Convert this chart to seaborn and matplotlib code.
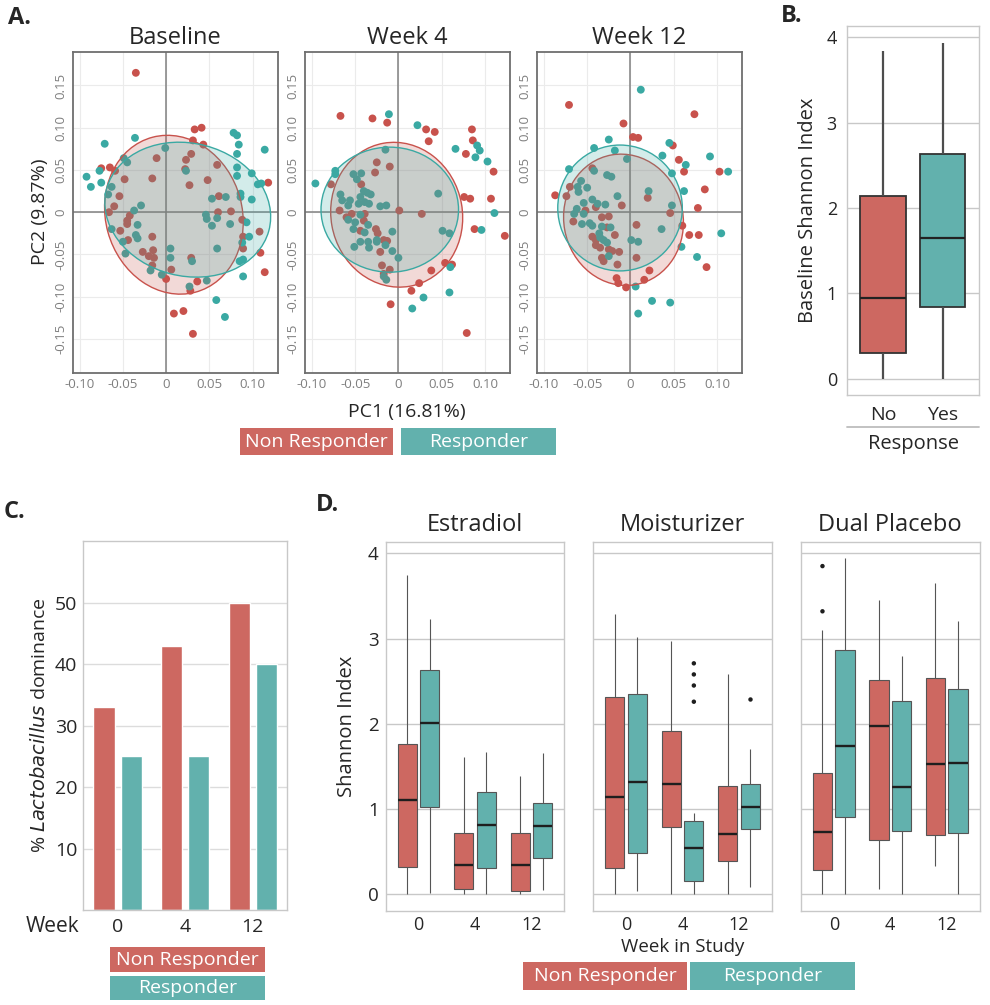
import numpy as np
import pandas as pd
import seaborn as sns
import matplotlib.pyplot as plt
from matplotlib.patches import Ellipse, Rectangle
from matplotlib.lines import Line2D
from matplotlib.colors import to_rgba

sns.set_theme(style="white")
plt.rcParams['font.family'] = ['Open Sans', 'DejaVu Sans']

groups = ["Non Responder", "Responder"]
weeks = ["0", "4", "12"]
pca_titles = ["Baseline", "Week 4", "Week 12"]

# PCA scores (PC1, PC2)
baseline_nr = [(-0.035, 0.165), (0.033, 0.098), (0.041, 0.100), (0.031, 0.085), (0.043, 0.080),
               (-0.011, 0.064), (0.029, 0.069), (0.023, 0.062), (0.022, 0.051), (0.059, 0.056),
               (-0.075, 0.052), (-0.065, 0.053), (-0.059, 0.049), (-0.048, 0.039), (-0.016, 0.040),
               (0.027, 0.032), (0.048, 0.038), (0.118, 0.035), (-0.054, 0.019), (-0.060, 0.007),
               (-0.066, 0.000), (0.061, 0.019), (-0.042, -0.004), (-0.045, -0.010), (-0.045, -0.014),
               (0.060, 0.000), (0.075, 0.001), (0.088, -0.009), (-0.053, -0.022), (-0.016, -0.029),
               (0.089, -0.029), (0.108, -0.023), (-0.044, -0.033), (-0.027, -0.047), (-0.015, -0.045),
               (-0.020, -0.052), (-0.014, -0.054), (-0.016, -0.063), (0.029, -0.054), (0.006, -0.068),
               (0.089, -0.043), (0.109, -0.048), (0.114, -0.071), (0.000, -0.079), (0.036, -0.082),
               (0.028, -0.093), (0.009, -0.120), (0.020, -0.117), (0.031, -0.144)]
baseline_r = [(-0.036, 0.088), (-0.071, 0.081), (-0.001, 0.076), (0.078, 0.094), (0.082, 0.091),
              (0.084, 0.080), (0.082, 0.069), (0.114, 0.074), (-0.049, 0.064), (-0.045, 0.059),
              (-0.077, 0.049), (-0.092, 0.042), (-0.087, 0.030), (-0.075, 0.035), (-0.063, 0.030),
              (0.082, 0.053), (0.082, 0.043), (0.099, 0.046), (0.106, 0.033), (0.110, 0.034),
              (0.023, 0.049), (-0.067, 0.021), (-0.029, 0.008), (-0.037, 0.002), (0.053, 0.016),
              (0.069, 0.018), (0.086, 0.022), (0.086, 0.018), (0.099, 0.015), (0.046, -0.003),
              (0.047, -0.008), (0.059, -0.007), (0.053, -0.016), (0.074, -0.014), (0.093, -0.012),
              (-0.063, -0.020), (-0.033, -0.015), (-0.035, -0.027), (-0.033, -0.031), (-0.050, -0.035),
              (-0.047, -0.049), (0.096, -0.029), (0.088, -0.036), (0.059, -0.043), (0.005, -0.043),
              (0.005, -0.054), (0.030, -0.058), (0.089, -0.056), (0.085, -0.058), (-0.018, -0.069),
              (-0.005, -0.074), (0.089, -0.076), (0.047, -0.081), (0.027, -0.088), (0.058, -0.104),
              (0.068, -0.124)]
week4_nr = [(-0.067, 0.114), (-0.030, 0.111), (-0.013, 0.106), (0.032, 0.098), (0.042, 0.095),
            (0.035, 0.084), (0.085, 0.098), (0.086, 0.085), (0.078, 0.069), (0.110, 0.048),
            (-0.025, 0.059), (-0.010, 0.054), (-0.027, 0.047), (-0.078, 0.033), (-0.043, 0.033),
            (0.076, 0.018), (0.083, 0.016), (0.107, 0.016), (-0.068, 0.002), (0.001, 0.002),
            (0.027, -0.002), (-0.060, -0.006), (-0.054, -0.002), (-0.039, -0.002), (-0.040, -0.010),
            (-0.044, -0.022), (-0.026, -0.020), (-0.024, -0.025), (-0.017, -0.033), (-0.013, -0.034),
            (-0.021, -0.047), (0.088, -0.020), (0.123, -0.028), (-0.019, -0.063), (-0.010, -0.068),
            (-0.017, -0.073), (0.038, -0.069), (0.054, -0.060), (0.062, -0.062), (0.024, -0.084),
            (0.015, -0.093), (-0.009, -0.109), (0.079, -0.143)]
week4_r = [(-0.011, 0.116), (0.022, 0.103), (0.066, 0.075), (0.091, 0.079), (0.094, 0.073),
           (0.089, 0.065), (0.103, 0.060), (-0.015, 0.074), (-0.073, 0.049), (-0.073, 0.045),
           (-0.096, 0.034), (-0.052, 0.045), (-0.043, 0.046), (-0.048, 0.039), (-0.067, 0.021),
           (-0.065, 0.014), (-0.058, 0.008), (-0.056, 0.014), (-0.040, 0.025), (-0.036, 0.023),
           (-0.032, 0.021), (-0.044, 0.018), (-0.039, 0.012), (-0.034, 0.010), (-0.046, 0.010),
           (-0.021, 0.007), (-0.014, 0.008), (0.046, 0.022), (0.111, -0.001), (-0.058, -0.009),
           (-0.050, -0.012), (-0.044, -0.003), (-0.035, -0.015), (-0.052, -0.020), (-0.039, -0.024),
           (-0.007, -0.023), (0.051, -0.022), (0.059, -0.025), (0.096, -0.021), (-0.044, -0.035),
           (-0.035, -0.035), (-0.025, -0.033), (-0.025, -0.035), (-0.051, -0.041), (-0.034, -0.042),
           (-0.015, -0.039), (-0.007, -0.046), (0.000, -0.054), (0.060, -0.065), (-0.017, -0.076),
           (-0.014, -0.080), (0.029, -0.101), (0.059, -0.095), (0.016, -0.114)]
week12_nr = [(-0.071, 0.127), (0.074, 0.116), (-0.008, 0.105), (0.003, 0.089), (0.009, 0.088),
             (0.049, 0.079), (0.056, 0.062), (0.062, 0.048), (0.103, 0.048), (-0.044, 0.052),
             (-0.070, 0.030), (-0.087, 0.020), (-0.074, 0.019), (0.086, 0.027), (0.020, 0.017),
             (-0.010, 0.008), (-0.040, 0.006), (-0.052, 0.002), (0.078, 0.005), (0.046, -0.001),
             (-0.066, -0.011), (-0.033, -0.006), (-0.025, -0.005), (0.007, -0.015), (-0.027, -0.018),
             (0.060, -0.016), (-0.044, -0.029), (-0.040, -0.033), (-0.018, -0.027), (0.068, -0.027),
             (0.079, -0.027), (-0.040, -0.039), (-0.035, -0.042), (-0.025, -0.044), (-0.021, -0.046),
             (-0.013, -0.047), (-0.033, -0.054), (-0.031, -0.058), (0.007, -0.054), (-0.015, -0.062),
             (0.088, -0.065), (0.022, -0.069), (0.016, -0.080), (-0.016, -0.078), (-0.014, -0.084),
             (-0.005, -0.089)]
week12_r = [(0.012, 0.145), (-0.025, 0.086), (-0.042, 0.076), (-0.018, 0.073), (-0.004, 0.063),
            (0.045, 0.082), (0.037, 0.067), (0.064, 0.056), (0.092, 0.066), (0.113, 0.048),
            (-0.071, 0.051), (-0.042, 0.049), (-0.027, 0.044), (-0.022, 0.042), (0.048, 0.046),
            (-0.057, 0.037), (-0.061, 0.030), (-0.050, 0.029), (-0.060, 0.024), (0.021, 0.025),
            (0.062, 0.025), (-0.015, 0.019), (-0.044, 0.015), (-0.038, 0.010), (-0.029, 0.009),
            (-0.054, 0.011), (-0.062, 0.004), (-0.065, -0.002), (-0.054, -0.002), (-0.056, -0.014),
            (0.048, 0.008), (0.036, -0.020), (-0.047, -0.013), (-0.044, -0.016), (-0.033, -0.017),
            (-0.023, -0.018), (-0.036, -0.025), (-0.035, -0.030), (-0.031, -0.033), (-0.027, -0.036),
            (0.105, -0.025), (0.001, -0.033), (0.009, -0.035), (0.059, -0.041), (-0.025, -0.052),
            (0.077, -0.053), (0.006, -0.088), (0.025, -0.105), (0.046, -0.107), (0.009, -0.120)]

# group ellipses per panel: centre (PC1, PC2), full axis lengths and tilt in degrees
ellipse_center = {"Baseline": [(0.009, -0.003), (0.025, 0.003)],
                  "Week 4": [(-0.002, -0.003), (-0.010, 0.003)],
                  "Week 12": [(-0.008, -0.009), (-0.012, 0.005)]}
ellipse_major = {"Baseline": [0.190, 0.194], "Week 4": [0.172, 0.159], "Week 12": [0.156, 0.149]}
ellipse_minor = {"Baseline": [0.158, 0.157], "Week 4": [0.152, 0.148], "Week 12": [0.138, 0.144]}
ellipse_angle = {"Baseline": [105, -15], "Week 4": [100, 0], "Week 12": [100, 90]}

# panel B: baseline Shannon index (min, q1, median, q3, max)
response_labels = ["No", "Yes"]
baseline_no = [0.0, 0.30, 0.94, 2.14, 3.84]
baseline_yes = [0.0, 0.84, 1.65, 2.63, 3.93]

# panel C: % Lactobacillus dominance
lacto_nr = [33, 43, 50]
lacto_r = [25, 25, 40]

# panel D: Shannon index per week (min, q1, median, q3, max)
treatments = ["Estradiol", "Moisturizer", "Dual Placebo"]
estradiol_nr = [[0.01, 0.32, 1.11, 1.77, 3.75], [0.0, 0.07, 0.34, 0.72, 1.61], [0.01, 0.04, 0.34, 0.72, 1.39]]
estradiol_r = [[0.02, 1.03, 2.01, 2.63, 3.23], [0.0, 0.31, 0.81, 1.20, 1.67], [0.05, 0.43, 0.80, 1.07, 1.66]]
moisturizer_nr = [[0.0, 0.31, 1.14, 2.32, 3.29], [0.0, 0.79, 1.30, 1.92, 2.97], [0.0, 0.39, 0.71, 1.27, 2.58]]
moisturizer_r = [[0.04, 0.49, 1.32, 2.35, 3.02], [0.0, 0.16, 0.55, 0.86, 0.96], [0.09, 0.77, 1.02, 1.30, 1.71]]
placebo_nr = [[0.0, 0.29, 0.73, 1.43, 3.10], [0.06, 0.64, 1.98, 2.51, 3.45], [0.33, 0.70, 1.53, 2.54, 3.65]]
placebo_r = [[0.0, 0.91, 1.74, 2.87, 3.94], [0.0, 0.75, 1.26, 2.27, 2.80], [0.0, 0.72, 1.54, 2.41, 3.21]]
# outliers: (treatment, week, group, value)
outliers = [("Moisturizer", "4", "Responder", 2.71), ("Moisturizer", "4", "Responder", 2.58),
            ("Moisturizer", "4", "Responder", 2.45), ("Moisturizer", "4", "Responder", 2.26),
            ("Moisturizer", "12", "Responder", 2.29),
            ("Dual Placebo", "0", "Non Responder", 3.85), ("Dual Placebo", "0", "Non Responder", 3.32)]

RED, TEAL = "#cd6861", "#62b1ad"
RED_PT, TEAL_PT = "#c8524c", "#3aa9a3"
fill_pal = {groups[0]: RED, groups[1]: TEAL}
point_pal = {groups[0]: RED_PT, groups[1]: TEAL_PT}
FRAME = "#c8c8c8"

W, H = 990, 1005
fig = plt.figure(figsize=(W / 100, H / 100), dpi=100)


def rect(x0, y0, x1, y1):
    return [x0 / W, 1 - y1 / H, (x1 - x0) / W, (y1 - y0) / H]


def ftext(x, y, s, **kw):
    fig.text(x / W, 1 - y / H, s, **kw)


def legend_box(x0, y0, x1, y1, color, label, size=14):
    fig.add_artist(Rectangle((x0 / W, 1 - y1 / H), (x1 - x0) / W, (y1 - y0) / H,
                             transform=fig.transFigure, fc=color, ec="none"))
    ftext((x0 + x1) / 2, (y0 + y1) / 2, label, ha="center", va="center", color="white", fontsize=size)


def frame(ax, color=FRAME, lw=1.0):
    for sp in ax.spines.values():
        sp.set_visible(True)
        sp.set_color(color)
        sp.set_linewidth(lw)


# ---------------- A. PCA ----------------
pca_sets = [(baseline_nr, baseline_r), (week4_nr, week4_r), (week12_nr, week12_r)]
pca_x0 = [72.7, 305, 537]
ticks = [-0.15, -0.10, -0.05, 0, 0.05, 0.10, 0.15]
tick_lab = ["-0.15", "-0.10", "-0.05", "0", "0.05", "0.10", "0.15"]
for title, (nr, r), x0 in zip(pca_titles, pca_sets, pca_x0):
    ax = fig.add_axes(rect(x0, 51.7, x0 + 205, 372.7))
    df = pd.DataFrame(nr + r, columns=["PC1", "PC2"])
    df["group"] = [groups[0]] * len(nr) + [groups[1]] * len(r)
    sns.scatterplot(data=df, x="PC1", y="PC2", hue="group", palette=point_pal, s=32,
                    edgecolor="none", legend=False, ax=ax, zorder=3)
    for k, col in enumerate([RED_PT, TEAL_PT]):
        ax.add_patch(Ellipse(ellipse_center[title][k], ellipse_major[title][k], ellipse_minor[title][k],
                             angle=ellipse_angle[title][k], fc=to_rgba(col, 0.22), ec=col,
                             lw=1.0, zorder=4))
    ax.axhline(0, color="#808080", lw=1.1, zorder=2)
    ax.axvline(0, color="#808080", lw=1.1, zorder=2)
    ax.set_xlim(-0.108, 0.129)
    ax.set_ylim(-0.19, 0.19)
    ax.set_xticks(ticks[1:-1], tick_lab[1:-1])
    ax.set_yticks(ticks, tick_lab)
    ax.grid(True, color="#ebebeb", lw=0.8)
    ax.set_axisbelow(True)
    ax.tick_params(length=0, labelsize=9.5, labelcolor="#7f7f7f", pad=4)
    for lab in ax.get_yticklabels():
        lab.set_rotation(90)
        lab.set_va("center")
    ax.set_xlabel("")
    ax.set_ylabel("")
    frame(ax, "#6e6e6e", 1.3)
    ftext(x0 + 102.5, 38, title, ha="center", va="center", fontsize=17)

ftext(40, 212, "PC2 (9.87%)", rotation=90, ha="center", va="center", fontsize=14)
ftext(407, 412, "PC1 (16.81%)", ha="center", va="center", fontsize=14)
legend_box(240, 428, 393, 455, RED, groups[0])
legend_box(401, 428, 556, 455, TEAL, groups[1])

# ---------------- B. baseline Shannon ----------------
axb = fig.add_axes(rect(846.7, 26, 979, 395))
dfb = pd.DataFrame({"response": [response_labels[0]] * 5 + [response_labels[1]] * 5,
                    "shannon": baseline_no + baseline_yes})
sns.boxplot(data=dfb, x="response", y="shannon", hue="response", order=response_labels,
            palette={response_labels[0]: RED, response_labels[1]: TEAL}, saturation=1,
            whis=np.inf, width=0.76, linecolor="#333333", linewidth=1.3, showcaps=False,
            medianprops=dict(color="#222222", linewidth=1.6),
            whiskerprops=dict(color="#4d4d4d", linewidth=1.6), legend=False, ax=axb)
axb.set_xlim(-0.61, 1.61)
axb.set_ylim(-0.19, 4.13)
axb.set_yticks([0, 1, 2, 3, 4])
axb.yaxis.grid(True, color=FRAME, lw=1)
axb.set_axisbelow(True)
axb.tick_params(axis="y", length=0, labelsize=13, pad=7)
axb.tick_params(axis="x", length=0, labelsize=14, pad=8)
axb.set_xlabel("")
axb.set_ylabel("Baseline Shannon Index", fontsize=14.5, labelpad=6)
frame(axb)
fig.add_artist(Line2D([846.7 / W, 979 / W], [1 - 427 / H, 1 - 427 / H], transform=fig.transFigure,
                      color="#bdbdbd", lw=1.3))
ftext(913, 444, "Response", ha="center", va="center", fontsize=14.5)

# ---------------- C. Lactobacillus dominance ----------------
axc = fig.add_axes(rect(82.7, 541, 287.3, 910))
dfc = pd.DataFrame({"week": weeks * 2, "group": [groups[0]] * 3 + [groups[1]] * 3,
                    "pct": lacto_nr + lacto_r})
sns.barplot(data=dfc, x="week", y="pct", hue="group", order=weeks, hue_order=groups,
            palette=fill_pal, saturation=1, width=0.8, gap=0.22, errorbar=None,
            legend=False, ax=axc)
axc.set_xlim(-0.515, 2.51)
axc.set_ylim(0, 60)
axc.set_yticks([10, 20, 30, 40, 50])
axc.yaxis.grid(True, color="#dcdcdc", lw=1)
axc.set_axisbelow(True)
axc.tick_params(axis="y", length=0, labelsize=14, pad=4)
axc.tick_params(axis="x", which="major", length=0, labelsize=14, pad=6)
axc.set_xticks([0.5, 1.5], minor=True)
axc.tick_params(axis="x", which="minor", length=5, color="#bbbbbb", width=1, direction="out")
axc.set_xlabel("")
axc.set_ylabel(r"% $\it{Lactobacillus}$ dominance", fontsize=14, labelpad=4)
frame(axc)
ftext(53, 926, "Week", ha="center", va="center", fontsize=15)
legend_box(110, 947, 265, 972, RED, groups[0])
legend_box(110, 976, 265, 1000, TEAL, groups[1])

# ---------------- D. Shannon over time ----------------
d_sets = [(estradiol_nr, estradiol_r), (moisturizer_nr, moisturizer_r), (placebo_nr, placebo_r)]
d_x0 = [385.7, 593.3, 801]
out_df = pd.DataFrame(outliers, columns=["treatment", "week", "group", "shannon"])
for i, (name, (nr, r), x0) in enumerate(zip(treatments, d_sets, d_x0)):
    ax = fig.add_axes(rect(x0, 541.7, x0 + 178.5, 910.7))
    rows = []
    for g, stats in zip(groups, (nr, r)):
        for wk, s in zip(weeks, stats):
            rows += [(wk, g, v) for v in s]
    dfd = pd.DataFrame(rows, columns=["week", "group", "shannon"])
    sns.boxplot(data=dfd, x="week", y="shannon", hue="group", order=weeks, hue_order=groups,
                palette=fill_pal, saturation=1, whis=np.inf, width=0.8, gap=0.15,
                linecolor="#555555", linewidth=0.8, showcaps=False,
                medianprops=dict(color="#1e1e1e", linewidth=1.7), legend=False, ax=ax)
    sub = out_df[out_df["treatment"] == name]
    if len(sub):
        sns.stripplot(data=sub, x="week", y="shannon", hue="group", order=weeks, hue_order=groups,
                      palette={g: "#1e1e1e" for g in groups}, dodge=True, jitter=False, size=3.2,
                      legend=False, ax=ax)
    ax.set_xlim(-0.58, 2.58)
    ax.set_ylim(-0.19, 4.136)
    ax.set_yticks([0, 1, 2, 3, 4])
    ax.yaxis.grid(True, color=FRAME, lw=1)
    ax.set_axisbelow(True)
    ax.tick_params(axis="y", length=0, labelsize=13.5, pad=5, labelleft=(i == 0))
    ax.tick_params(axis="x", which="major", length=0, labelsize=13, pad=4)
    ax.set_xticks([0.5, 1.5], minor=True)
    ax.tick_params(axis="x", which="minor", length=5, color="#bbbbbb", width=1, direction="out")
    ax.set_xlabel("")
    ax.set_ylabel("Shannon Index" if i == 0 else "", fontsize=14.5, labelpad=8)
    frame(ax)
    ftext(x0 + 89, 525, name, ha="center", va="center", fontsize=17)

ftext(683, 947, "Week in Study", ha="center", va="center", fontsize=13.5)
legend_box(523, 962, 687, 990, RED, groups[0])
legend_box(690, 962, 855, 990, TEAL, groups[1])

# panel letters
ftext(8, 18, "A.", ha="left", va="center", fontsize=17, fontweight="bold")
ftext(781, 16, "B.", ha="left", va="center", fontsize=17, fontweight="bold")
ftext(4, 512, "C.", ha="left", va="center", fontsize=17, fontweight="bold")
ftext(316, 505, "D.", ha="left", va="center", fontsize=17, fontweight="bold")

fig.savefig("out.png", dpi=100)
